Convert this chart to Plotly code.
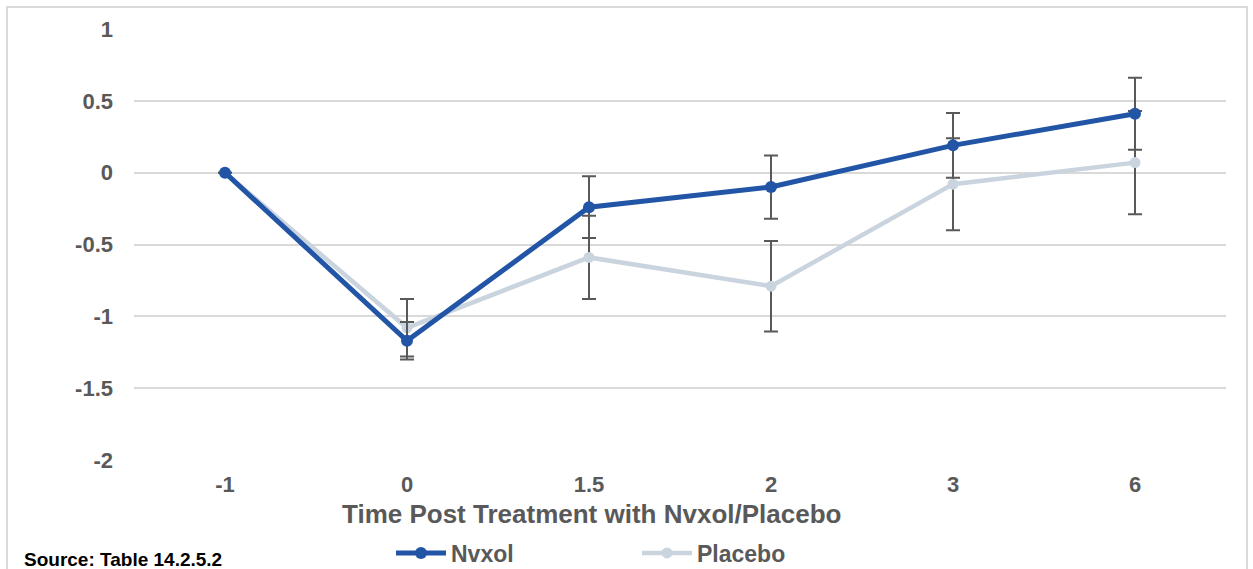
import plotly.graph_objects as go

times = ["-1", "0", "1.5", "2", "3", "6"]
nvxol = [0, -1.17, -0.24, -0.10, 0.19, 0.41]
nvxol_err = [0, 0.13, 0.215, 0.22, 0.225, 0.25]
placebo = [0, -1.08, -0.59, -0.79, -0.08, 0.07]
placebo_err = [0, 0.20, 0.29, 0.315, 0.32, 0.36]
y_ticks = [-2, -1.5, -1, -0.5, 0, 0.5, 1]
y_tick_text = ["-2", "-1.5", "-1", "-0.5", "0", "0.5", "1"]
x_title = "Time Post Treatment with Nvxol/Placebo"
source_note = "Source: Table 14.2.5.2"

FONT = "Liberation Sans, Arial"
GRAY = "#595959"

fig = go.Figure()
fig.add_trace(go.Scatter(
    x=times, y=placebo, name="Placebo", mode="lines+markers",
    line=dict(color="#CAD4DF", width=4.5),
    marker=dict(size=11, color="#CAD4DF"),
    error_y=dict(type="data", array=placebo_err, color="#595959", thickness=2, width=7),
))
fig.add_trace(go.Scatter(
    x=times, y=nvxol, name="Nvxol", mode="lines+markers",
    line=dict(color="#2255A6", width=5),
    marker=dict(size=12, color="#2255A6"),
    error_y=dict(type="data", array=nvxol_err, color="#595959", thickness=2, width=7),
))

fig.update_layout(
    width=1253, height=569,
    margin=dict(l=134, r=27, t=29, b=109),
    paper_bgcolor="white", plot_bgcolor="white",
    font=dict(family=FONT, color=GRAY, size=20),
    showlegend=True,
    legend=dict(orientation="h", xref="container", yref="container",
                x=391 / 1253, y=(569 - 553) / 569,
                xanchor="left", yanchor="middle",
                traceorder="reversed", font=dict(size=23, color=GRAY, family=FONT, weight="bold"),
                itemwidth=50, entrywidth=181, borderwidth=0, bgcolor="rgba(0,0,0,0)"),
    xaxis=dict(type="category", range=[-0.5, 5.5], showgrid=False, zeroline=False, showline=False,
               automargin=False,
               tickfont=dict(size=22, color=GRAY, family=FONT, weight="bold"),
               ticks="", ticklabelstandoff=9),
    yaxis=dict(range=[-2, 1], tickvals=y_ticks, ticktext=y_tick_text,
               showgrid=True, gridcolor="#D9D9D9", gridwidth=2,
               zeroline=False, showline=False, automargin=False,
               tickfont=dict(size=22, color=GRAY, family=FONT, weight="bold"),
               ticks="", ticklabelstandoff=20),
    shapes=[dict(type="rect", xref="paper", yref="paper",
                 x0=(7 - 134) / 1092, x1=(1247 - 134) / 1092,
                 y0=-0.4, y1=(460 - 7) / 431,
                 line=dict(color="#D9D9D9", width=2), layer="below")],
    annotations=[
        dict(text="<b>" + x_title + "</b>", xref="paper", yref="paper",
             x=(591 - 134) / 1092, y=(460 - 514) / 431, xanchor="center", yanchor="middle",
             showarrow=False, font=dict(size=26, color=GRAY, family=FONT)),
        dict(text="<b>" + source_note + "</b>", xref="paper", yref="paper",
             x=(22 - 134) / 1092, y=(460 - 559) / 431, xanchor="left", yanchor="middle",
             showarrow=False, font=dict(size=19, color="black", family=FONT)),
    ],
)

fig.write_html("out.html")
